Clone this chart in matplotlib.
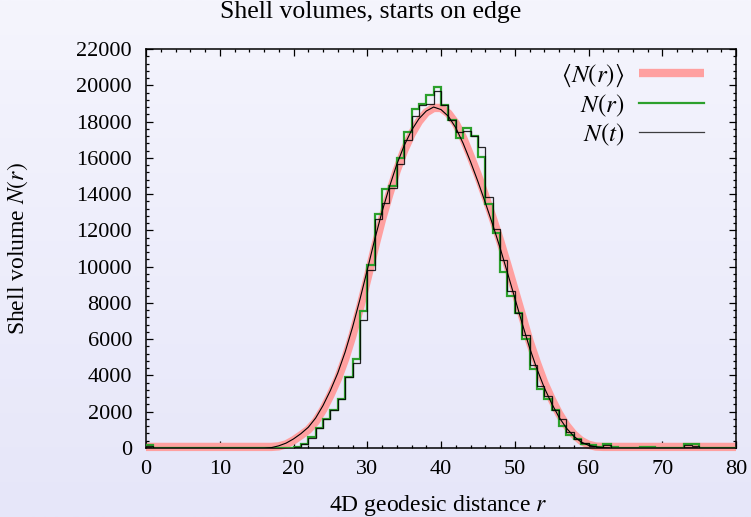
import numpy as np
import matplotlib
matplotlib.use("Agg")
from matplotlib import pyplot as plt
from matplotlib.lines import Line2D

plt.rcParams["font.family"] = ["Liberation Serif", "DejaVu Serif"]
plt.rcParams["mathtext.fontset"] = "stix"
plt.rcParams["font.size"] = 16

# ---------------------------------------------------------------------------
# Data
# ---------------------------------------------------------------------------
bin_edges = np.arange(0, 81)  # unit bins 0..80

# green histogram N(r), one value per bin [k, k+1)
n_r = [150, 0, 0, 0, 0, 0, 0, 0, 0, 0,
       0, 0, 0, 0, 0, 0, 0, 0, 0, 0,
       40, 230, 600, 1110, 1610, 2120, 2710, 3900, 4880, 7580,
       10100, 12880, 14300, 14460, 15990, 17440, 18690, 18960, 19480, 19880,
       18930, 18080, 17090, 17640, 17180, 16020, 13450, 11840, 9700, 8400,
       7450, 6000, 4360, 3260, 2710, 2070, 1240, 690, 510, 230,
       140, 60, 200, 50, 0, 0, 0, 80, 80, 0,
       0, 0, 0, 200, 230, 0, 0, 0, 0, 0]

# black histogram N(t)
n_t = [130, 0, 0, 0, 0, 0, 0, 0, 0, 0,
       0, 0, 0, 0, 0, 0, 0, 0, 0, 0,
       30, 200, 560, 1080, 1580, 2100, 2700, 3900, 4700, 7050,
       9800, 12630, 13490, 14330, 15660, 16980, 18320, 18910, 18960, 19700,
       18930, 18080, 17400, 17460, 17200, 16570, 13820, 12080, 10370, 8650,
       7450, 6250, 4580, 3440, 2890, 2100, 1610, 870, 510, 250,
       120, 60, 150, 0, 0, 0, 0, 0, 0, 0,
       0, 0, 0, 150, 100, 0, 0, 0, 0, 0]

# smooth average <N(r)> (pink band), sampled at integer r
r_avg = np.arange(0, 81)
n_avg = [60] * 17 + [
    60, 90, 200, 420, 700, 1000, 1450, 2100, 2900, 3800,
    4900, 6200, 7700, 9300, 11000, 12600, 14000, 15300, 16400, 17300,
    18000, 18500, 18750, 18750, 18450, 17900, 17100, 16100, 15050, 13900,
    12700, 11450, 10100, 8700, 7300, 5900, 4700, 3600, 2700, 1900,
    1250, 750, 400, 180, 80, 60] + [60] * 18

# thin black smooth curve
n_fit = [0] * 17 + [
    20, 120, 270, 500, 790, 1140, 1650, 2340, 3170, 4130,
    5290, 6650, 8180, 9810, 11480, 13020, 14390, 15630, 16670, 17510,
    18150, 18580, 18800, 18660, 18290, 17660, 16800, 15790, 14700, 13540,
    12330, 11050, 9680, 8280, 6880, 5540, 4370, 3330, 2460, 1700,
    1100, 650, 330, 150, 60, 10] + [0] * 18

x_ticks = list(range(0, 81, 10))
y_ticks = list(range(0, 22001, 2000))

# ---------------------------------------------------------------------------
# Figure
# ---------------------------------------------------------------------------
fig = plt.figure(figsize=(7.51, 5.17), dpi=100)

# soft vertical gradient behind everything
bg = fig.add_axes([0, 0, 1, 1], zorder=-10)
top_c = np.array([245, 245, 253]) / 255.0
bot_c = np.array([230, 230, 249]) / 255.0
t = np.linspace(0, 1, 256)[:, None, None]
grad = top_c * (1 - t) + bot_c * t
bg.imshow(grad, aspect="auto", extent=[0, 1, 0, 1])
bg.set_axis_off()

ax = fig.add_axes([146 / 751, 69 / 517, 590 / 751, 399 / 517])
ax.set_facecolor("none")

pink = "#ffa0a0"
green = "#2ca02c"

ax.plot(r_avg, n_avg, color=pink, lw=6, solid_capstyle="butt", zorder=2, clip_on=False)
ax.stairs(n_r, bin_edges, color=green, lw=1.6, zorder=3)
ax.stairs(n_t, bin_edges, color="black", lw=0.9, alpha=0.85, zorder=4)
ax.plot(r_avg, n_fit, color="black", lw=0.8, zorder=5)

ax.set_xlim(0, 80)
ax.set_ylim(0, 22000)
ax.set_xticks(x_ticks)
ax.set_yticks(y_ticks)
ax.set_xticks(np.arange(0, 81, 2), minor=True)
ax.set_yticks(np.arange(0, 22001, 400), minor=True)
ax.tick_params(which="both", direction="in", top=True, right=True, width=0.9)
ax.tick_params(which="major", length=5)
ax.tick_params(which="minor", length=2.5)
ax.tick_params(axis="x", pad=9)
ax.tick_params(axis="y", pad=10)
for sp in ax.spines.values():
    sp.set_linewidth(1.1)

handles = [
    Line2D([], [], color=pink, lw=6, solid_capstyle="butt"),
    Line2D([], [], color=green, lw=1.6),
    Line2D([], [], color="black", lw=0.9, alpha=0.75),
]
labels = [r"$\langle N(r)\rangle$", r"$N(r)$", r"$N(t)$"]
ax.legend(handles, labels, loc="upper right", bbox_to_anchor=(0.963, 0.99),
          frameon=False, markerfirst=False, handlelength=2.6, fontsize=18,
          handletextpad=0.6, labelspacing=0.12, borderaxespad=0)

fig.text(0.494, 0.977, "Shell volumes, starts on edge", ha="center", va="center",
         fontsize=18.5)
fig.text(0.584, 0.022, r"4D geodesic distance $r$", ha="center", va="center",
         fontsize=17)
fig.text(0.023, 0.52, r"Shell volume $N(r)$", ha="center", va="center",
         rotation=90, fontsize=17)

fig.savefig("out.png", dpi=100)
